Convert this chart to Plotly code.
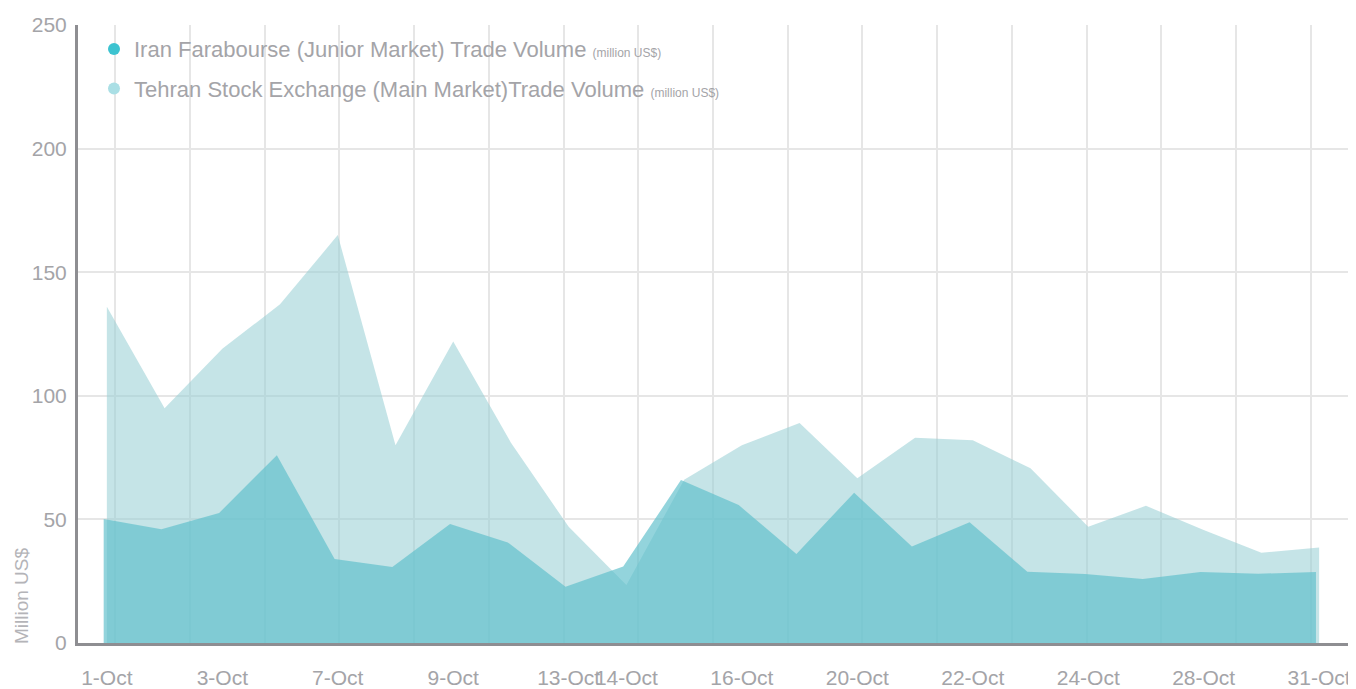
import plotly.graph_objects as go

categories = ["1-Oct", "2-Oct", "3-Oct", "6-Oct", "7-Oct", "8-Oct", "9-Oct", "10-Oct",
              "13-Oct", "14-Oct", "15-Oct", "16-Oct", "17-Oct", "20-Oct", "21-Oct",
              "22-Oct", "23-Oct", "24-Oct", "27-Oct", "28-Oct", "29-Oct", "31-Oct"]
tehran_volume = [136, 95, 119, 137, 165, 80, 122, 81, 47, 23.5, 66, 80, 89, 66.6,
                 83, 82, 70.7, 47, 55.5, 45.7, 36.5, 38.6]
iran_volume = [50.2, 46, 52.6, 76, 34, 30.7, 48.1, 40.7, 22.8, 30.9, 65.9, 55.8, 36,
               60.8, 39, 48.8, 28.8, 27.9, 25.9, 28.7, 28, 28.7]
tick_labels = ["1-Oct", "3-Oct", "7-Oct", "9-Oct", "13-Oct", "14-Oct", "16-Oct",
               "20-Oct", "22-Oct", "24-Oct", "28-Oct", "31-Oct"]
y_ticks = [0, 50, 100, 150, 200, 250]
grid_columns = 17

FONT = "Liberation Sans Narrow, Arial Narrow, Liberation Sans, Arial, sans-serif"
TXT = "#a4a4a8"
GRID = "#e6e6e6"
AXIS = "#8e8e92"

fig = go.Figure()

fig.add_trace(go.Scatter(
    x=categories, y=tehran_volume, mode="lines", fill="tozeroy",
    line=dict(width=0, color="rgba(150,205,212,0.55)"),
    fillcolor="rgba(150,205,212,0.55)", showlegend=False, hoverinfo="skip"))
# junior-market area sits a few pixels left of the main-market area in the original
fig.add_trace(go.Scatter(
    x=categories, y=iran_volume, mode="lines", fill="tozeroy", xaxis="x3",
    line=dict(width=0, color="rgba(94,191,203,0.67)"),
    fillcolor="rgba(94,191,203,0.67)", showlegend=False, hoverinfo="skip"))

small = "<span style='font-size:12px'>(million US$)</span>"
fig.add_trace(go.Scatter(
    x=[None], y=[None], mode="markers", legendgroup="a",
    marker=dict(symbol="circle", size=15, color="#3cc3d0"),
    name="Iran Farabourse (Junior Market) Trade Volume " + small))
fig.add_trace(go.Scatter(
    x=[None], y=[None], mode="markers", legendgroup="b",
    marker=dict(symbol="circle", size=15, color="#aadfe5"),
    name="Tehran Stock Exchange (Main Market)Trade Volume " + small))

# vertical background grid (independent of categories)
fig.add_trace(go.Scatter(x=[None], y=[None], xaxis="x2", showlegend=False,
                         hoverinfo="skip"))

# the page body adds an 8px offset, so the figure is 8px smaller
fig.update_layout(
    width=1348, height=681,
    margin=dict(l=70, r=8, t=17, b=46, autoexpand=False),
    paper_bgcolor="white", plot_bgcolor="white",
    font=dict(family=FONT, color=TXT, size=21),
    xaxis=dict(
        type="category", categoryorder="array", categoryarray=categories,
        range=[-0.5, len(categories) - 0.5],
        tickmode="array", tickvals=tick_labels, ticktext=tick_labels,
        tickangle=0, automargin=False,
        showgrid=False, zeroline=False,
        showline=True, linecolor=AXIS, linewidth=3,
        ticks="", ticklabelstandoff=14,
        tickfont=dict(size=21, color=TXT, family=FONT),
    ),
    xaxis2=dict(
        overlaying="x", range=[0, grid_columns], side="top",
        tickmode="array", automargin=False,
        tickvals=[i + 0.5 for i in range(grid_columns)] + [grid_columns],
        showticklabels=False, ticks="", showgrid=True, gridcolor=GRID,
        gridwidth=2, zeroline=False, showline=False,
    ),
    xaxis3=dict(
        overlaying="x", type="category", categoryorder="array",
        categoryarray=categories, range=[-0.445, len(categories) - 0.445],
        showticklabels=False, ticks="", showgrid=False, zeroline=False,
        showline=False, automargin=False,
    ),
    yaxis=dict(
        range=[0, 250], tickvals=y_ticks, showgrid=True, gridcolor=GRID,
        gridwidth=2, zeroline=False, showline=True, linecolor=AXIS,
        linewidth=3, ticks="", ticklabelstandoff=4, automargin=False,
        tickfont=dict(size=21, color=TXT, family=FONT),
    ),
    legend=dict(
        x=0.0126, y=0.995, xanchor="left", yanchor="top",
        bgcolor="rgba(0,0,0,0)", font=dict(size=22, color=TXT, family=FONT),
        itemsizing="constant", traceorder="grouped", tracegroupgap=8,
    ),
    annotations=[dict(
        text="Million US$", xref="paper", yref="paper", x=-0.0445, y=-0.005,
        xanchor="center", yanchor="bottom", textangle=-90, showarrow=False,
        font=dict(size=19, color="#b4b4b8", family=FONT),
    )],
)

fig.write_html("out.html")
